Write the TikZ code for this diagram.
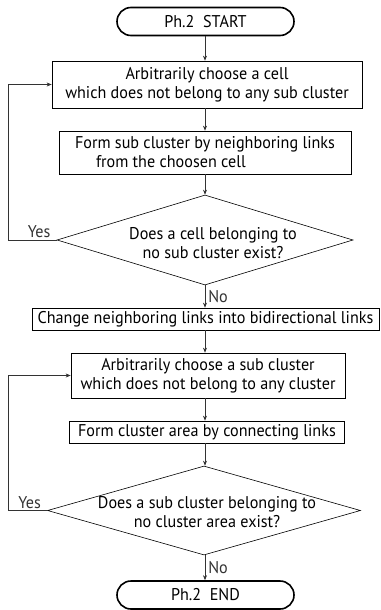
\documentclass[tikz,border=0pt]{standalone}
\usepackage{fontspec}
\setmainfont{PT Sans}[FakeStretch=0.95]
\usetikzlibrary{shapes.geometric,shapes.misc,arrows.meta}

\begin{document}
\begin{tikzpicture}[x=1pt,y=-1pt,
    every node/.style={inner sep=2pt,font=\fontsize{17}{19}\selectfont},
    >={Stealth[length=5pt,width=4pt]},
    term/.style={rounded rectangle,draw,line width=1.6pt,minimum width=181pt,minimum height=28pt},
    box/.style={rectangle,draw,line width=0.7pt,align=center,inner sep=0pt},
    decide/.style={diamond,draw,line width=0.6pt,inner sep=0pt},
    link/.style={->,line width=0.6pt,black!80}]
    \useasboundingbox(0,0)rectangle(380,610);
    \coordinate(rail)at(8,0);
    % phase 2 main column
    \node[term](start)at(205.5,21.5){Ph.2\ \ START};
    \node[box,minimum width=310pt,minimum height=47pt](pick)at(207,84.5)
      {Arbitrarily choose a cell\\which does not belong to any sub cluster};
    \node[box,minimum width=292pt,minimum height=43pt,align=left](form)at(205,152.5)
      {Form sub cluster by neighboring links\\\hspace*{21pt}from the choosen cell};
    \node[decide,minimum width=296pt,minimum height=90pt](ask)at(205,240){};
    \node(asktext)at(213,245.5){\begin{tabular}{@{}c@{}}Does a cell belonging to\\no sub cluster exist?\end{tabular}};
    \node[box,minimum width=347pt,minimum height=22pt](change)at(205.5,319)
      {Change neighboring links into bidirectional links};
    \node[box,minimum width=274pt,minimum height=45pt](picksub)at(208,375.5)
      {Arbitrarily choose a sub cluster\\which does not belong to any cluster};
    \node[box,minimum width=275pt,minimum height=22pt](area)at(207,432)
      {Form cluster area by connecting links};
    \node[decide,minimum width=313pt,minimum height=89pt](asksub)at(204,510.5){};
    \node(asksubtext)at(207,514){\begin{tabular}{@{}c@{}}Does a sub cluster belonging to\\no cluster area exist?\end{tabular}};
    \node[term](stop)at(205.5,595){Ph.2\ \ END};
    % arrows down the column
    \foreach \a/\b/\t in {start/pick/,pick/form/,form/ask/,ask/change/No,
        change/picksub/,picksub/area/,area/asksub/,asksub/stop/No}
      \draw[link](205,0|-\a.south)--node[right,inner sep=3pt]{\t}(205,0|-\b.north);
    % loops back
    \draw[link](ask.west)node[above left,xshift=-4pt](yes)
      {Yes}--(ask.west-|rail)|-(pick.west);
    \draw[link](asksub.west)node[above left,xshift=-4pt](yessub)
      {Yes}--(asksub.west-|rail)|-(picksub.west);
  \end{tikzpicture}
\end{document}
